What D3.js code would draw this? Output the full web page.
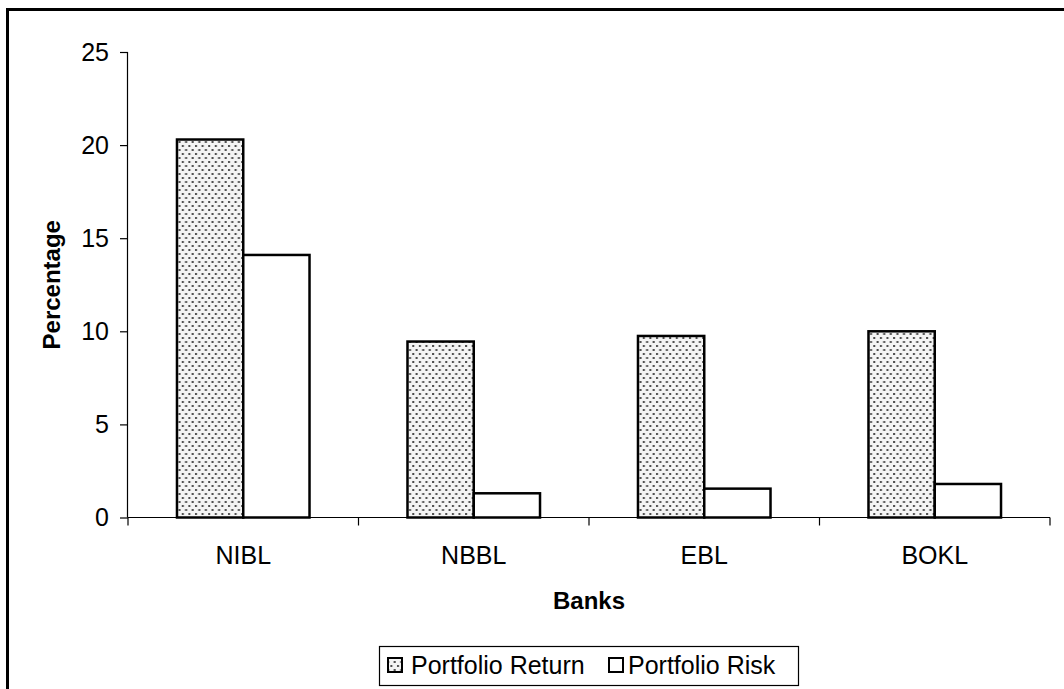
<!DOCTYPE html>
<html>
<head>
<meta charset="utf-8">
<script src="https://cdn.jsdelivr.net/npm/d3@7"></script>
<style>
html,body{margin:0;padding:0;background:#fff;}
svg{display:block;font-family:"Liberation Sans",Arial,sans-serif;}
</style>
</head>
<body>
<svg id="chart" width="1064" height="689"></svg>
<script>
const categories = ["NIBL", "NBBL", "EBL", "BOKL"];
const seriesNames = ["Portfolio Return", "Portfolio Risk"];
const portfolioReturn = [20.3, 9.45, 9.75, 10.0];
const portfolioRisk = [14.1, 1.3, 1.55, 1.8];
const yTicks = [0, 5, 10, 15, 20, 25];

(function(){
const svg = d3.select("#chart");
const defs = svg.append("defs");
const pat = defs.append("pattern").attr("id","dots").attr("patternUnits","userSpaceOnUse")
  .attr("width",6.6).attr("height",8);
pat.append("rect").attr("width",6.6).attr("height",8).attr("fill","#f4f4f4");
pat.append("rect").attr("x",1).attr("y",1).attr("width",2).attr("height",2).attr("fill","#4a4a4a");
pat.append("rect").attr("x",4.3).attr("y",5).attr("width",2).attr("height",2).attr("fill","#4a4a4a");

// outer frame
svg.append("rect").attr("x",7.5).attr("y",9.5).attr("width",1100).attr("height",800)
  .attr("fill","none").attr("stroke","#000").attr("stroke-width",3);

const pl = 128, pr = 1050, pt = 52, pb = 517.5;
const y = d3.scaleLinear().domain([0,25]).range([pb, pt]);
const x0 = d3.scaleBand().domain(categories).range([pl, pr]).padding(0);
const bw = x0.bandwidth();
const x1 = d3.scaleBand().domain(seriesNames).range([0.2125*bw, 0.7875*bw]).padding(0);

const fills = ["url(#dots)", "#fff"];
const data = categories.map((c,i)=>({cat:c, vals:[portfolioReturn[i], portfolioRisk[i]]}));

const g = svg.append("g");
g.selectAll("g.cat").data(data).join("g").attr("class","cat")
  .attr("transform", d=>`translate(${x0(d.cat)},0)`)
  .selectAll("rect").data(d=>d.vals.map((v,j)=>({v, s:seriesNames[j], j})))
  .join("rect")
  .attr("x", d=>x1(d.s))
  .attr("y", d=>y(d.v))
  .attr("width", x1.bandwidth())
  .attr("height", d=>pb - y(d.v))
  .attr("fill", d=>fills[d.j])
  .attr("stroke","#000").attr("stroke-width",2.5);

// y axis
const yAxis = d3.axisLeft(y).tickValues(yTicks).tickSize(8).tickPadding(11).tickFormat(d3.format("d"));
const ya = svg.append("g").attr("transform",`translate(${pl},0)`).call(yAxis);
ya.select(".domain").attr("d",`M-0.5,${pt}V${pb}`).attr("stroke","#000").attr("stroke-width",1.2);
ya.selectAll(".tick line").attr("stroke","#000").attr("stroke-width",1.2);
ya.selectAll(".tick text").attr("font-size",25).attr("fill","#000").attr("font-family","Liberation Sans, Arial, sans-serif");

// x axis
const xa = svg.append("g").attr("transform",`translate(0,${pb})`);
xa.append("line").attr("x1",pl).attr("x2",pr).attr("y1",0).attr("y2",0).attr("stroke","#000").attr("stroke-width",1.2);
const bounds = categories.map(c=>x0(c)).concat([x0(categories[categories.length-1])+bw]);
xa.selectAll("line.tk").data(bounds).join("line").attr("class","tk")
  .attr("x1",d=>d).attr("x2",d=>d).attr("y1",0).attr("y2",8).attr("stroke","#000").attr("stroke-width",1.2);
xa.selectAll("text").data(categories).join("text")
  .attr("x", d=>x0(d)+bw/2).attr("y", 46).attr("text-anchor","middle")
  .attr("font-size",25).attr("fill","#000").text(d=>d);

// axis titles
svg.append("text").attr("x",(pl+pr)/2).attr("y",609).attr("text-anchor","middle")
  .attr("font-size",24).attr("font-weight","bold").text("Banks");
svg.append("text").attr("transform",`translate(60,${(pt+pb)/2}) rotate(-90)`)
  .attr("text-anchor","middle").attr("font-size",24).attr("font-weight","bold").text("Percentage");

// legend
const lg = svg.append("g");
lg.append("rect").attr("x",379.5).attr("y",646.5).attr("width",419).attr("height",39)
  .attr("fill","#fff").attr("stroke","#000").attr("stroke-width",1.2);
const legendItems = [{name:seriesNames[0], fill:fills[0], sx:388, tx:411},
                     {name:seriesNames[1], fill:fills[1], sx:609, tx:628}];
legendItems.forEach(it=>{
  lg.append("rect").attr("x",it.sx).attr("y",658).attr("width",14).attr("height",14)
    .attr("fill",it.fill).attr("stroke","#000").attr("stroke-width",2);
  lg.append("text").attr("x",it.tx).attr("y",674).attr("font-size",25).text(it.name);
});
})();
</script>
</body>
</html>
